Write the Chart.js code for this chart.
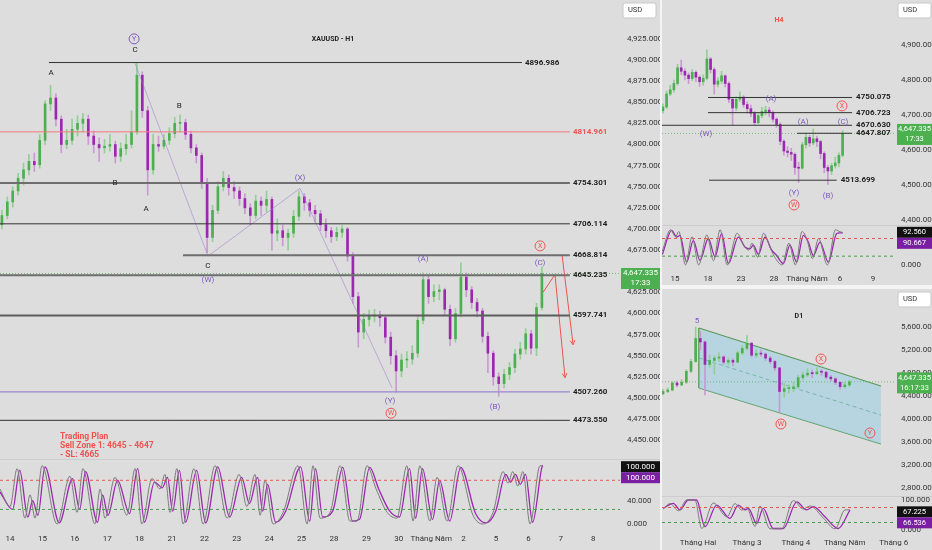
<!DOCTYPE html>
<html>
<head>
<meta charset="utf-8">
<script src="https://cdn.jsdelivr.net/npm/chart.js@4.4.1/dist/chart.umd.min.js"></script>
<style>
  body { margin: 0; width: 932px; height: 550px; overflow: hidden; position: relative; background: #f4f4f4; }
  canvas { position: absolute; background: #dddddd; }
</style>
</head>
<body>
<canvas id="mainPrice" width="660" height="459" style="left:0px;top:0px"></canvas>
<canvas id="mainStoch" width="660" height="91" style="left:0px;top:459px"></canvas>
<canvas id="h4Price" width="270" height="225" style="left:662px;top:0px"></canvas>
<canvas id="h4Stoch" width="270" height="60" style="left:662px;top:225px"></canvas>
<canvas id="d1Price" width="270" height="207" style="left:662px;top:289px"></canvas>
<canvas id="d1Stoch" width="270" height="54" style="left:662px;top:496px"></canvas>
<script>
// ---- H1 (main) : x axis in trading days, 14 = 0 ----
const mainDays = ['14','15','16','17','18','21','22','23','24','25','28','29','30','Tháng Năm','2','5','6','7','8'];
const mainStart = -0.25, mainStep = 1 / 6;
const mainOpen0 = 4705;
const mainClose = [4716,4732,4745,4760,4770,4780,4776,4805,4848,4855,
  4830,4800,4805,4818,4825,4830,4810,4800,4796,4798,
  4800,4786,4795,4800,4815,4882,4840,4770,4800,4798,
  4805,4813,4825,4826,4812,4796,4787,4755,4690,4722,
  4750,4760,4749,4745,4736,4725,4716,4733,4728,4735,
  4695,4698,4690,4695,4715,4738,4731,4722,4718,4705,
  4698,4691,4696,4700,4668,4620,4578,4593,4597,4598,
  4595,4572,4550,4532,4545,4546,4553,4592,4640,4620,
  4626,4628,4605,4570,4600,4643,4628,4613,4603,4573,
  4553,4525,4517,4528,4536,4552,4558,4576,4559,4607,
  4647.335];
const mainHigh = [4722,4738,4750,4766,4778,4788,4790,4812,4852,4870,
  4860,4834,4818,4830,4834,4837,4835,4816,4808,4806,
  4812,4804,4802,4812,4840,4897,4886,4845,4812,4810,
  4812,4820,4832,4835,4830,4816,4800,4790,4760,4728,
  4756,4768,4764,4756,4750,4742,4730,4740,4738,4745,
  4738,4712,4705,4700,4722,4745,4742,4735,4728,4722,
  4712,4702,4702,4704,4702,4672,4625,4600,4604,4605,
  4603,4598,4578,4556,4552,4555,4562,4598,4648,4645,
  4634,4634,4630,4610,4606,4660,4648,4632,4618,4606,
  4578,4556,4530,4534,4542,4558,4566,4582,4580,4612,
  4655];
const mainLow = [4700,4712,4726,4740,4752,4764,4768,4772,4800,4840,
  4822,4790,4795,4800,4810,4815,4800,4790,4780,4790,
  4792,4778,4780,4788,4796,4812,4832,4740,4765,4792,
  4795,4800,4808,4815,4806,4790,4778,4748,4672,4685,
  4718,4745,4740,4736,4728,4718,4705,4712,4716,4720,
  4675,4686,4680,4675,4690,4710,4722,4715,4708,4698,
  4690,4684,4686,4690,4662,4612,4560,4570,4585,4590,
  4585,4565,4540,4507,4525,4536,4540,4548,4588,4612,
  4614,4616,4598,4562,4566,4596,4620,4606,4596,4566,
  4530,4515,4502,4512,4522,4530,4546,4552,4552,4550,
  4604];
const mainPriceTicks = [4450,4475,4500,4525,4550,4575,4600,4625,4650,4675,4700,4725,4750,4775,4800,4825,4850,4875,4900,4925];
const mainLevels = [4896.986, 4814.961, 4754.301, 4706.114, 4668.814, 4645.235, 4597.741, 4507.260, 4473.550];
const mainLevelFrom = [1.2, -0.31, -0.31, -0.31, 5.34, -0.31, -0.31, -0.31, -0.31];
const mainLevelTo = [15.8, 17.28, 17.28, 17.28, 17.28, 17.28, 17.28, 17.28, 17.28];
const mainWave = [[3.86, 4896], [6.11, 4668], [8.95, 4748], [11.79, 4512]];
const mainArrow1 = [[16.45, 4625], [16.82, 4646], [17.13, 4524]];
const mainArrow2 = [[17.04, 4669], [17.38, 4563]];
const mainWaveLabels = [
  [3.83, 4925, 'Y', '#7e57c2', true], [3.86, 4912, 'C', '#222'], [1.27, 4885, 'A', '#222'],
  [3.24, 4754, 'B', '#222'], [4.20, 4724, 'A', '#222'], [5.22, 4846, 'B', '#222'],
  [6.11, 4656, 'C', '#222'], [6.11, 4640, '(W)', '#7e57c2'], [8.95, 4760, '(X)', '#7e57c2'],
  [12.75, 4665, '(A)', '#7e57c2'], [16.36, 4660, '(C)', '#7e57c2'], [16.36, 4680, 'X', '#ef5350', true],
  [11.73, 4496, '(Y)', '#7e57c2'], [11.76, 4482, 'W', '#ef5350', true], [14.97, 4489, '(B)', '#7e57c2']
];
const tradingPlan = ['Trading Plan', 'Sell Zone 1: 4645 - 4647', '- SL: 4665'];
const lastPrice = 4647.335;

// stochastic turning points [day, value]
const mainStochK = [[-0.31,60],[0,30],[0.22,95],[0.46,10],[0.62,50],[0.77,10],[0.99,100],[1.45,0],[1.85,82],[2.07,20],
  [2.25,95],[2.62,0],[2.78,60],[2.93,10],[3.24,80],[3.61,15],[3.86,95],[4.07,0],[4.38,78],[4.63,60],
  [4.78,85],[4.94,20],[5.15,95],[5.34,0],[5.68,95],[5.96,0],[6.33,100],[6.70,10],[7.07,85],[7.31,30],
  [7.56,85],[7.72,15],[7.87,75],[8.12,0],[8.43,20],[8.89,100],[9.17,0],[9.35,100],[9.57,10],[9.88,20],
  [10.19,100],[10.49,5],[10.71,5],[11.02,100],[11.3,60],[11.64,20],[11.94,10],[12.25,100],[12.44,5],[12.65,100],
  [12.96,5],[13.18,80],[13.49,5],[13.83,100],[14.29,15],[14.60,0],[14.91,20],[15.22,90],[15.37,70],[15.52,90],
  [15.67,65],[15.83,90],[16.05,0],[16.36,100],[16.45,100]];
const mainStochD = [[-0.31,55],[0.08,25],[0.3,92],[0.55,12],[0.7,40],[0.86,15],[1.08,98],[1.52,2],[1.93,78],[2.15,25],
  [2.33,90],[2.7,3],[2.86,50],[3.02,15],[3.32,75],[3.69,18],[3.94,95],[4.15,3],[4.46,72],[4.7,62],
  [4.86,80],[5.02,22],[5.23,92],[5.42,3],[5.76,92],[6.04,2],[6.41,98],[6.78,12],[7.15,80],[7.39,35],
  [7.64,80],[7.8,22],[7.95,68],[8.2,3],[8.51,22],[8.97,98],[9.25,5],[9.43,95],[9.65,12],[9.96,22],
  [10.27,97],[10.57,5],[10.79,8],[11.1,97],[11.38,60],[11.72,22],[12.02,12],[12.33,95],[12.52,10],[12.73,95],
  [13.04,8],[13.26,75],[13.57,5],[13.91,97],[14.37,18],[14.68,2],[14.99,22],[15.3,85],[15.45,72],[15.6,85],
  [15.75,68],[15.91,85],[16.13,3],[16.42,98],[16.45,100]];
const stochLevels = [75, 25];

// ---- H4 ----
const h4DayTicks = [1, 4, 7, 10, 13, 16, 19];
const h4DayLabels = ['15', '18', '23', '28', 'Tháng Năm', '6', '9'];
const h4Start = -0.1, h4Step = 1 / 3;
const h4Open0 = 4712;
const h4Close = [4723,4760,4772,4790,4835,4825,4814,4804,4822,4808,
  4795,4805,4860,4830,4788,4797,4812,4790,4745,4720,
  4745,4751,4730,4718,4705,4678,4698,4710,4714,4707,
  4688,4673,4625,4597,4593,4588,4550,4548,4615,4636,
  4620,4632,4624,4590,4550,4540,4555,4563,4585,4647.335];
const h4High = [4732,4768,4785,4800,4845,4857,4832,4820,4830,4826,
  4812,4815,4886,4865,4835,4806,4825,4815,4795,4750,
  4752,4766,4755,4738,4728,4710,4704,4722,4725,4722,
  4712,4692,4678,4630,4610,4605,4592,4565,4622,4648,
  4642,4660,4640,4628,4595,4556,4562,4580,4592,4655];
const h4Low = [4705,4718,4755,4765,4785,4815,4800,4790,4798,4795,
  4782,4785,4800,4820,4760,4780,4790,4780,4735,4671,
  4712,4738,4722,4705,4695,4672,4675,4692,4700,4695,
  4680,4665,4615,4585,4580,4570,4530,4507,4545,4605,
  4610,4615,4610,4575,4535,4502,4530,4548,4552,4580];
const h4PriceTicks = [4400, 4500, 4600, 4700, 4800, 4900];
const h4Levels = [4750.075, 4706.723, 4670.630, 4647.807, 4513.699];
const h4LevelFrom = [4.0, 4.0, -0.2, 12.1, 4.1];
const h4LevelTo = [17.1, 17.1, 17.1, 17.1, 15.7];
const h4WaveLabels = [
  [9.73, 4746, '(A)', '#7e57c2'], [16.18, 4726, 'X', '#ef5350', true], [3.82, 4646, '(W)', '#7e57c2'],
  [12.64, 4680, '(A)', '#7e57c2'], [16.27, 4680, '(C)', '#7e57c2'], [11.82, 4477, '(Y)', '#7e57c2'],
  [11.82, 4443, 'W', '#ef5350', true], [14.91, 4469, '(B)', '#7e57c2']
];
const h4StochK = [[-0.15,40],[0.6,100],[1.05,80],[1.35,95],[1.95,0],[2.55,80],[3.15,0],[3.9,85],[4.5,12],[5.1,100],
  [5.75,0],[6.65,90],[7.25,55],[7.7,42],[8.0,62],[8.5,22],[9.05,90],[9.7,45],[10.15,18],[10.75,0],
  [11.35,62],[11.95,0],[12.55,95],[13.0,72],[13.5,18],[14.05,75],[14.85,0],[15.6,100],[16.0,94],[16.24,92.56]];
const h4StochD = [[-0.15,30],[0.70,98],[1.15,79],[1.45,84],[2.06,8],[2.67,70],[3.27,13],[4.03,75],[4.64,23],[5.24,89],
  [5.85,4],[6.76,79],[7.36,51],[7.82,46],[8.12,56],[8.58,30],[9.18,79],[9.79,42],[10.24,27],[10.85,4],
  [11.45,56],[12.06,8],[12.67,84],[13.12,65],[13.58,27],[14.18,65],[14.94,8],[15.70,89],[16.0,91],[16.24,90.67]];

// ---- D1 : x axis in trading days, 1 Feb = 0 ----
const d1MonthTicks = [0, 21, 42, 63, 84];
const d1MonthLabels = ['Tháng Hai', 'Tháng 3', 'Tháng 4', 'Tháng Năm', 'Tháng 6'];
const d1Start = -15, d1Step = 2;
const d1Open0 = 4440;
const d1Close = [4480,4506,4628,4593,4640,4830,5000,5400,5340,4950,
  5020,5060,5080,4990,5020,4990,5150,5230,5320,5110,
  5140,5130,5060,5000,4890,4480,4530,4530,4560,4720,
  4767,4800,4790,4819,4815,4730,4700,4640,4565,4593,4647.335];
const d1High = [4520,4540,4650,4660,4690,4860,5040,5600,5520,5360,
  5110,5100,5150,5100,5060,5050,5180,5280,5450,5330,
  5200,5200,5150,5090,5020,4900,4620,4600,4640,4760,
  4820,4880,4850,4890,4860,4830,4760,4720,4650,4640,4680];
const d1Low = [4420,4460,4490,4560,4580,4620,4810,4990,5200,4420,
  4900,4780,5000,4950,4940,4930,4980,5120,5200,5080,
  5070,5090,5020,4960,4840,4124,4380,4450,4480,4540,
  4680,4740,4720,4770,4760,4700,4660,4600,4520,4540,4570];
const d1PriceTicks = [2800, 3200, 3600, 4000, 4400, 4800, 5200, 5600];
const d1ChannelUpper = [[0.43, 5583], [78.5, 4576]];
const d1ChannelLower = [[0.43, 4541], [78.5, 3569]];
const d1ChannelMid = [[0.43, 5062], [78.5, 4072]];
const d1WaveLabels = [
  [-0.43, 5704, '5', '#7e57c2'], [52.8, 5044, 'X', '#ef5350', true],
  [35.6, 3916, 'W', '#ef5350', true], [73.8, 3760, 'Y', '#ef5350', true]
];
const d1StochK = [[-14.9,70],[-12.0,88],[-8.4,64],[-4.9,100],[-1.3,100],[1.6,5],[6.6,90],[12.4,44],[15.9,88],[18.8,66],
  [20.9,75],[24.5,12],[26.6,80],[30.9,4],[35.9,4],[40.9,98],[45.2,70],[48.1,80],[53.8,40],[58.8,4],[63.1,67],[65.2,67.2]];
const d1StochD = [[-14.9,72],[-10.6,89],[-7.7,67],[-4.2,100],[-0.6,100],[3.0,11],[8.0,83],[13.7,39],[17.3,83],[20.2,67],
  [21.6,72],[25.2,22],[28.0,72],[32.3,5],[36.6,5],[42.4,94],[46.6,67],[49.5,78],[54.5,44],[60.2,5],[65.2,66.5]];

// ---------------------------------------------------------------
const UP = '#4caf50', UP_W = '#93cf95', DN = '#9c27b0', DN_W = '#c99ad2';
const PURPLE = '#9c27b0';
const FONT = 'Roboto, "Liberation Sans", sans-serif';
const fmt3 = v => v.toLocaleString('en-US', {minimumFractionDigits: 3, maximumFractionDigits: 3});

function candles(start, step, open0, close, high, low, body) {
  const t = close.map((_, i) => start + i * step);
  const open = close.map((_, i) => i ? close[i - 1] : open0);
  const up = i => close[i] >= open[i];
  return [
    { type: 'bar', grouped: false, barThickness: 1, order: 3,
      data: t.map((x, i) => ({x, y: [low[i], high[i]]})),
      backgroundColor: c => up(c.dataIndex) ? UP_W : DN_W },
    { type: 'bar', grouped: false, barThickness: body, minBarLength: 1, order: 2,
      data: t.map((x, i) => ({x, y: [open[i], close[i]]})),
      backgroundColor: c => up(c.dataIndex) ? UP : DN }
  ];
}

function line(points, color, width, extra) {
  return Object.assign({
    type: 'line', order: 1, data: points.map(p => ({x: p[0], y: p[1]})),
    borderColor: color, borderWidth: width, pointRadius: 0, fill: false
  }, extra || {});
}

function stochLines(k, d, x0, x1) {
  return [
    ...stochLevels.map((v, i) => line([[x0, v], [x1, v]], i ? '#43a047' : '#ef5350', 1, {borderDash: [3, 3]})),
    line(k, '#7a7a7a', 1, {cubicInterpolationMode: 'monotone'}),
    line(d, PURPLE, 1.3, {cubicInterpolationMode: 'monotone'})
  ];
}

function label(ctx, s, px, py, color, opt) {
  opt = opt || {};
  ctx.font = (opt.bold ? 'bold ' : '') + (opt.size || 8) + 'px ' + FONT;
  ctx.fillStyle = color;
  ctx.textAlign = opt.align || 'center';
  ctx.textBaseline = 'middle';
  ctx.fillText(s, px, py);
  if (opt.circle) {
    ctx.beginPath();
    ctx.arc(px, py, 5, 0, Math.PI * 2);
    ctx.strokeStyle = color; ctx.lineWidth = 1; ctx.stroke();
  }
}

function tag(ctx, px, py, w, lines, bg) {
  const h = lines.length * 10 + 1;
  ctx.fillStyle = bg;
  ctx.fillRect(px, py - 5.5, w, h);
  lines.forEach((s, i) => label(ctx, s, px + w / 2, py + i * 10, '#fff', {size: w < 38 ? 7.5 : 8}));
}

function usdBox(ctx, px) {
  ctx.fillStyle = '#fff';
  ctx.strokeStyle = '#c8c8c8';
  ctx.beginPath(); ctx.roundRect(px, 3, 33, 15, 2); ctx.fill(); ctx.stroke();
  label(ctx, 'USD', px + 5, 10.5, '#333', {size: 7.5, align: 'left'});
}

function arrowHead(ctx, X, Y, pts) {
  const a = pts[pts.length - 2], b = pts[pts.length - 1];
  const x1 = X(a[0]), y1 = Y(a[1]), x2 = X(b[0]), y2 = Y(b[1]);
  const ang = Math.atan2(y2 - y1, x2 - x1);
  ctx.strokeStyle = '#ef5350'; ctx.lineWidth = 1;
  ctx.beginPath();
  ctx.moveTo(x2 - 5 * Math.cos(ang - 0.5), y2 - 5 * Math.sin(ang - 0.5));
  ctx.lineTo(x2, y2);
  ctx.lineTo(x2 - 5 * Math.cos(ang + 0.5), y2 - 5 * Math.sin(ang + 0.5));
  ctx.stroke();
}

function makeChart(id, o) {
  return new Chart(document.getElementById(id), {
    type: 'bar',
    data: {datasets: o.datasets},
    options: {
      responsive: false, animation: false, events: [],
      layout: {padding: 0},
      plugins: {legend: {display: false}, tooltip: {enabled: false}},
      scales: {
        x: {
          type: 'linear', min: o.xMin, max: o.xMax, offset: false, display: !!o.xTicks,
          grid: {display: false, drawTicks: false}, border: {display: false},
          ticks: {font: {family: FONT, size: 8}, color: '#333', padding: 4, maxRotation: 0, autoSkip: false,
            callback: (v, i) => o.xLabels ? o.xLabels[i] : ''},
          afterBuildTicks: s => { if (o.xTicks) s.ticks = o.xTicks.map(v => ({value: v})); },
          afterFit: s => { s.height = o.xH || 0; s.paddingLeft = 0; s.paddingRight = 0; }
        },
        y: {
          type: 'linear', position: 'right', min: o.yMin, max: o.yMax,
          grid: {display: false, drawTicks: false}, border: {display: false},
          ticks: {font: {family: FONT, size: 8}, color: '#333', padding: o.yPad || 6, callback: v => fmt3(v)},
          afterBuildTicks: s => { s.ticks = o.yTicks.map(v => ({value: v})); },
          afterFit: s => { s.width = o.axisW; s.paddingTop = 0; s.paddingBottom = 0; }
        }
      }
    },
    plugins: [{
      id: 'overlay',
      afterDraw(chart) {
        const ctx = chart.ctx, sx = chart.scales.x, sy = chart.scales.y;
        ctx.save();
        if (o.draw) o.draw(ctx, v => sx.getPixelForValue(v), v => sy.getPixelForValue(v), chart.chartArea, chart);
        ctx.restore();
      }
    }]
  });
}

// ---------------- main H1 price ----------------
const levelColor = ['#333', '#ef7b7b', '#6e6e6e', '#333', '#6e6e6e', '#6e6e6e', '#5c5c5c', '#9b85d0', '#333'];
const levelWidth = [1, 1, 2, 1, 2, 2, 2, 1.2, 1];
makeChart('mainPrice', {
  xMin: -0.309, xMax: 18.827, yMin: 4427.8, yMax: 4971, yTicks: mainPriceTicks, axisW: 40, yPad: 7,
  datasets: [
    line([[-0.309, lastPrice], [18.827, lastPrice]], 'rgba(76,175,80,0.7)', 1, {borderDash: [1, 2], order: 4}),
    ...mainLevels.map((v, i) => line([[mainLevelFrom[i], v], [mainLevelTo[i], v]], levelColor[i], levelWidth[i])),
    line(mainWave, 'rgba(149,117,205,0.5)', 1),
    line(mainArrow1, '#ef5350', 1),
    line(mainArrow2, '#ef5350', 1),
    ...candles(mainStart, mainStep, mainOpen0, mainClose, mainHigh, mainLow, 2)
  ],
  draw(ctx, X, Y, area) {
    mainLevels.forEach((v, i) => label(ctx, v.toFixed(3), X(mainLevelTo[i]) + 3, Y(v),
      i === 1 ? '#ef5350' : '#222', {bold: true, align: 'left'}));
    mainWaveLabels.forEach(w => label(ctx, w[2], X(w[0]), Y(w[1]), w[3], {circle: w[4], size: w[4] ? 7 : 8}));
    label(ctx, 'XAUUSD - H1', X(9.97), Y(4925), '#222', {bold: true, size: 7});
    tradingPlan.forEach((s, i) => label(ctx, s, X(1.54), Y(4453.8) + i * 9, '#ef5350', {bold: true, size: 8.5, align: 'left'}));
    arrowHead(ctx, X, Y, mainArrow1);
    arrowHead(ctx, X, Y, mainArrow2);
    usdBox(ctx, area.right + 3);
    tag(ctx, area.right + 1, Y(lastPrice), 39, [fmt3(lastPrice), '17:33'], '#4caf50');
  }
});

makeChart('mainStoch', {
  xMin: -0.309, xMax: 18.827, yMin: -10.3, yMax: 111.5, yTicks: [0, 40], axisW: 40, yPad: 7,
  xTicks: mainDays.map((_, i) => i), xLabels: mainDays, xH: 20,
  datasets: stochLines(mainStochK, mainStochD, -0.309, 18.827),
  draw(ctx, X, Y, area) {
    ctx.fillStyle = '#cdcdcd'; ctx.fillRect(0, 0, 660, 1);
    tag(ctx, area.right + 1, Y(100) + 1, 39, [fmt3(100)], '#111');
    tag(ctx, area.right + 1, Y(100) + 12, 39, [fmt3(100)], '#7b1fa2');
  }
});

// ---------------- H4 ----------------
makeChart('h4Price', {
  xMin: -0.182, xMax: 21.09, yMin: 4385.7, yMax: 5028.6, yTicks: h4PriceTicks, axisW: 36, yPad: 5,
  datasets: [
    line([[-0.182, lastPrice], [21.09, lastPrice]], 'rgba(76,175,80,0.7)', 1, {borderDash: [1, 2], order: 4}),
    ...h4Levels.map((v, i) => line([[h4LevelFrom[i], v], [h4LevelTo[i], v]], '#333', 1)),
    ...candles(h4Start, h4Step, h4Open0, h4Close, h4High, h4Low, 2)
  ],
  draw(ctx, X, Y, area) {
    h4Levels.forEach((v, i) => label(ctx, v.toFixed(3), X(h4LevelTo[i]) + 4, Y(v), '#222', {bold: true, align: 'left'}));
    h4WaveLabels.forEach(w => label(ctx, w[2], X(w[0]), Y(w[1]), w[3], {circle: w[4], size: w[4] ? 7 : 8}));
    label(ctx, 'H4', X(10.45), Y(4971), '#ef5350', {bold: true, size: 7});
    usdBox(ctx, area.right + 2);
    tag(ctx, area.right + 1, Y(lastPrice) - 4, 35, [fmt3(lastPrice), '17:33'], '#4caf50');
  }
});

makeChart('h4Stoch', {
  xMin: -0.182, xMax: 21.09, yMin: -14.2, yMax: 113.3, yTicks: [0], axisW: 36, yPad: 5,
  xTicks: h4DayTicks, xLabels: h4DayLabels, xH: 15,
  datasets: stochLines(h4StochK, h4StochD, -0.182, 21.09),
  draw(ctx, X, Y, area) {
    ctx.fillStyle = '#cdcdcd'; ctx.fillRect(0, 0, 270, 1);
    tag(ctx, area.right + 1, Y(92.56), 35, [fmt3(92.56)], '#111');
    tag(ctx, area.right + 1, Y(92.56) + 11, 35, [fmt3(90.667)], '#7b1fa2');
  }
});

// ---------------- D1 ----------------
makeChart('d1Price', {
  xMin: -15.45, xMax: 84.98, yMin: 2666, yMax: 6259.7, yTicks: d1PriceTicks, axisW: 36, yPad: 5,
  datasets: [
    line(d1ChannelUpper, '#5b9a5b', 1.2, {fill: '+1', backgroundColor: 'rgba(150,205,225,0.55)', order: 5}),
    line(d1ChannelLower, '#5b9a5b', 1.2, {order: 5}),
    line(d1ChannelMid, '#5b9a5b', 1, {borderDash: [4, 3], order: 5}),
    line([d1ChannelUpper[0], d1ChannelLower[0]], '#5b9a5b', 1, {order: 5}),
    line([[-15.45, lastPrice], [84.98, lastPrice]], 'rgba(76,175,80,0.7)', 1, {borderDash: [1, 2], order: 4}),
    ...candles(d1Start, d1Step, d1Open0, d1Close, d1High, d1Low, 2)
  ],
  draw(ctx, X, Y, area) {
    d1WaveLabels.forEach(w => label(ctx, w[2], X(w[0]), Y(w[1]), w[3], {circle: w[4], size: w[4] ? 7 : 8}));
    label(ctx, 'D1', X(43.3), Y(5791), '#222', {bold: true, size: 7});
    usdBox(ctx, area.right + 2);
    tag(ctx, area.right + 1, Y(lastPrice) - 4, 35, [fmt3(lastPrice), '16:17:33'], '#4caf50');
  }
});

makeChart('d1Stoch', {
  xMin: -15.45, xMax: 84.98, yMin: -13.3, yMax: 113.3, yTicks: [0, 100], axisW: 36, yPad: 5,
  xTicks: d1MonthTicks, xLabels: d1MonthLabels, xH: 16,
  datasets: stochLines(d1StochK, d1StochD, -15.45, 84.98),
  draw(ctx, X, Y, area) {
    ctx.fillStyle = '#cdcdcd'; ctx.fillRect(0, 0, 270, 1);
    tag(ctx, area.right + 1, Y(67.225) + 2, 35, [fmt3(67.225)], '#111');
    tag(ctx, area.right + 1, Y(67.225) + 13, 35, [fmt3(66.536)], '#7b1fa2');
  }
});
</script>
</body>
</html>
